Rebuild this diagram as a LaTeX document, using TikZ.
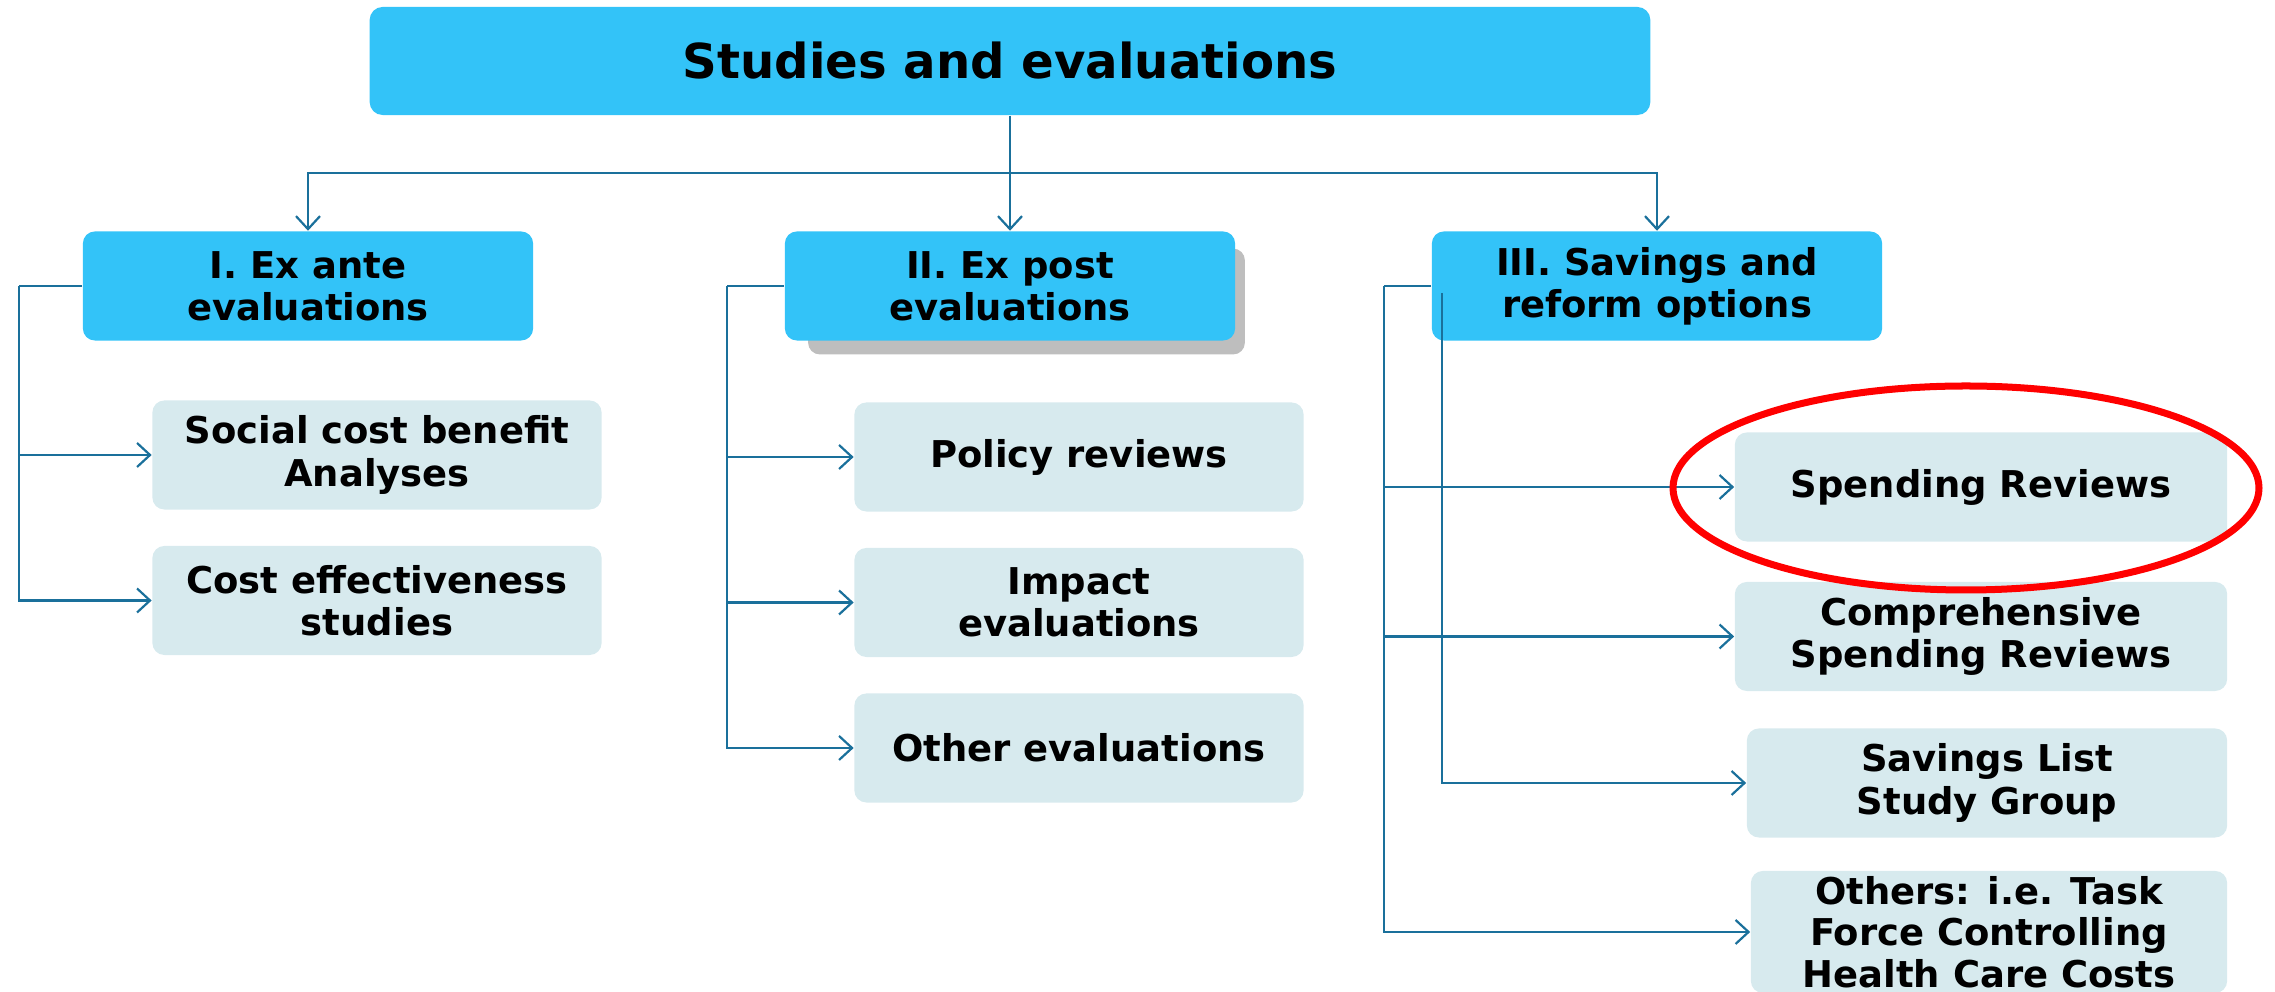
\documentclass[tikz,border=0pt]{standalone}
\usepackage{fontspec}
\setmainfont{DejaVu Sans}
\usepackage{tikz}
\usetikzlibrary{arrows.meta,positioning,shadows}

\definecolor{headblue}{RGB}{51,195,248}
\definecolor{paleblue}{RGB}{215,234,238}
\definecolor{linkblue}{RGB}{26,112,155}
\definecolor{ringred}{RGB}{255,0,0}
\definecolor{shadegray}{RGB}{190,190,190}

\begin{document}
\begin{tikzpicture}[x=0.01cm,y=-0.01cm,
    >={Straight Barb[length=0.13cm,width=0.24cm]},
    titlebox/.style={rectangle,rounded corners=0.13cm,fill=headblue,
      minimum width=12.8cm,minimum height=1.08cm,inner sep=0pt,
      font=\fontsize{13.7}{16}\selectfont\bfseries},
    head/.style={rectangle,rounded corners=0.12cm,fill=headblue,align=center,
      minimum width=4.5cm,minimum height=1.09cm,inner sep=0pt,
      font=\fontsize{10.5}{12}\selectfont\bfseries},
    item/.style={rectangle,rounded corners=0.12cm,fill=paleblue,align=center,
      minimum width=4.49cm,minimum height=1.09cm,inner sep=0pt,
      font=\fontsize{10.5}{12}\selectfont\bfseries},
    link/.style={draw=linkblue,line width=0.022cm},
    ring/.style={draw=ringred,line width=0.07cm}]
  \useasboundingbox (0,0) rectangle (2275,992);

  % top and the three groups
  \node [titlebox] (top) at (1010,61) {Studies and evaluations};
  \node [head] (exante) at (308,286) {I. Ex ante\\evaluations};
  \node [head,drop shadow={shadow xshift=0.17cm,shadow yshift=-0.16cm,
    shadow scale=0.97,fill=shadegray,opacity=1}] (expost) at (1010,286) {II. Ex post\\evaluations};
  \node [head] (reform) at (1657,286) {III. Savings and\\reform options};

  % group I
  \node [item] (social) at (377,455) {Social cost benefit\\Analyses};
  \node [item] (costeff) [below=0.35cm of social] {Cost effectiveness\\studies};

  % group II
  \node [item] (policy) at (1079,457) {Policy reviews};
  \node [item] (impact) [below=0.35cm of policy] {Impact\\evaluations};
  \node [item] (otherev) [below=0.35cm of impact] {Other evaluations};

  % group III
  \node [item,minimum width=4.92cm] (spend) at (1981,487) {Spending Reviews};
  \node [item,minimum width=4.92cm] (compr) [below=0.39cm of spend] {Comprehensive\\Spending Reviews};
  \node [item,minimum width=4.8cm] (slist) [below=0.36cm of compr.south east,anchor=north east]
    {Savings List\\Study Group};
  \node [item,minimum width=4.76cm,minimum height=1.22cm,
    font=\fontsize{10.5}{11.8}\selectfont\bfseries] (others)
    [below=0.32cm of slist.south east,anchor=north east]
    {Others: i.e. Task\\Force Controlling\\Health Care Costs};

  % connectors from the top
  \coordinate (bus) at (top.south |- 0,173);
  \draw [link] (top.south) -- (bus);
  \draw [link,->] (bus) -| (exante.north);
  \draw [link,->] (bus) -- (expost.north);
  \draw [link,->] (bus) -| (reform.north);

  % connectors of group I
  \coordinate (spineI) at (19,286);
  \draw [link] (exante.west) -- (spineI);
  \draw [link,->] (spineI) |- (social.west);
  \draw [link,->] (spineI) |- (costeff.west);

  % connectors of group II
  \coordinate (spineII) at (727,286);
  \draw [link] (expost.west) -- (spineII);
  \draw [link,->] (spineII) |- (policy.west);
  \draw [link,->] (spineII) |- (impact.west);
  \draw [link,->] (spineII) |- (otherev.west);

  % connectors of group III
  \coordinate (spineIII) at (1384,286);
  \coordinate (innerIII) at (1442,293);
  \draw [link] (reform.west) -- (spineIII);
  \draw [link,->] (spineIII) |- (spend.west);
  \draw [link,->] (spineIII) |- (compr.west);
  \draw [link,->] (spineIII) |- (others.west);
  \draw [link,->] (innerIII) |- (slist.west);

  % highlight
  \draw [ring] (1966,488) ellipse [x radius=293, y radius=102];
\end{tikzpicture}
\end{document}
